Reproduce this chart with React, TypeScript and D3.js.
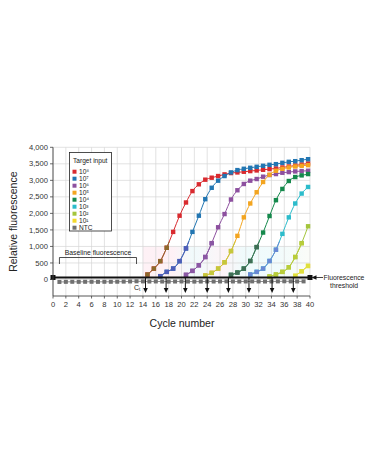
import React from 'react';
import * as d3 from 'd3';

// Cycle ticks and fluorescence ticks
const cycleTicks = d3.range(0, 41, 2);
const fluorTicks = d3.range(0, 4001, 500);

// Target input dilution series (10^8 ... 10^1), one value per cycle from its start cycle
const seriesLabels = ['10⁸', '10⁷', '10⁶', '10⁵', '10⁴', '10³', '10²', '10¹'];
const seriesStart = [14.7, 16.7, 20.7, 23.7, 27.7, 30.7, 33.7, 37.7];
const input1e8 = [150, 330, 555, 960, 1440, 1930, 2330, 2675, 2880, 3020, 3080, 3130, 3180, 3220, 3240, 3260, 3280, 3300, 3320, 3340, 3360, 3390, 3420, 3450, 3480, 3510];
const input1e7 = [100, 230, 330, 555, 940, 1440, 1930, 2430, 2775, 2990, 3130, 3240, 3310, 3350, 3380, 3410, 3440, 3470, 3490, 3530, 3560, 3580, 3610, 3640];
const input1e6 = [140, 260, 430, 680, 1100, 1580, 1980, 2420, 2700, 2890, 2990, 3040, 3110, 3160, 3190, 3230, 3250, 3270, 3280, 3290];
const input1e5 = [120, 200, 330, 520, 860, 1320, 1880, 2300, 2640, 2950, 3170, 3290, 3350, 3390, 3420, 3440, 3460];
const input1e4 = [140, 210, 330, 560, 980, 1420, 1920, 2400, 2740, 2980, 3100, 3150, 3190];
const input1e3 = [150, 230, 330, 560, 900, 1380, 1880, 2300, 2600, 2800];
const input1e2 = [90, 150, 230, 370, 680, 1100, 1610];
const input1e1 = [110, 250, 410];
const seriesValues = [input1e8, input1e7, input1e6, input1e5, input1e4, input1e3, input1e2, input1e1];

// No-template control, cycles 1..39
const ntcStart = 1;
const ntcValues = [-75, -72, -70, -72, -70, -70, -72, -70, -70, -68, -65, -60, -55, -58, -62, -60, -62, -65, -62, -60, -62, -65, -62, -60, -62, -60, -58, -60, -62, -60, -58, -60, -62, -60, -58, -55, -58, -60, -58];

const thresholdValue = 60;
const ctCycles = [14.4, 17.6, 20.6, 24.0, 27.3, 30.5, 34.1, 37.4];
const baselineRange = [1, 13];

const colors = ['#d92a2f', '#2276b2', '#8d509f', '#f3a520', '#15894c', '#2cbccb', '#a4c53c', '#f4d92c'];
const lowColors = ['#8c6a2c', '#4f5cb8', '#8a58a4', '#c4c83c', '#3f6e55', '#6a88d4', '#b9cd3a', '#dfe03c'];
const ntcColor = '#707070';
const font = '"Liberation Sans", Arial, Helvetica, sans-serif';

const W = 375;
const H = 471;

export default function App() {
  const x = d3.scaleLinear().domain([0, 40]).range([53, 310]);
  const y = d3.scaleLinear().domain([-500, 4000]).range([296, 147.3]);

  const line = d3
    .line<[number, number]>()
    .x((d) => x(d[0]))
    .y((d) => y(d[1]))
    .curve(d3.curveMonotoneX);

  const pts = (start: number, vals: number[]) =>
    vals.map((v, i) => [start + i, v] as [number, number]);

  const ms = 4.4;

  const drawSeries = (palette: string[]) =>
    seriesValues.map((vals, si) => {
      const p = pts(seriesStart[si], vals);
      return (
        <g key={si}>
          <path d={line(p) || ''} fill="none" stroke={palette[si]} strokeWidth={1} />
          {p.map((d, i) => (
            <rect
              key={i}
              x={x(d[0]) - ms / 2}
              y={y(d[1]) - ms / 2}
              width={ms}
              height={ms}
              fill={palette[si]}
            />
          ))}
        </g>
      );
    });

  const ntc = pts(ntcStart, ntcValues);
  const yThr = y(thresholdValue);

  return (
    <svg
      width={W}
      height={H}
      style={{ position: 'absolute', left: 0, top: 0, background: '#fff' }}
      fontFamily={font}
    >
      <defs>
        <linearGradient id="bandTint" x1="0%" x2="100%" y1="0%" y2="0%">
          <stop offset="0%" stopColor="#fde3ec" />
          <stop offset="18%" stopColor="#fde3ec" />
          <stop offset="30%" stopColor="#e2f6f8" />
          <stop offset="48%" stopColor="#fbe9f1" />
          <stop offset="60%" stopColor="#e0f6f8" />
          <stop offset="80%" stopColor="#e3f7f9" />
          <stop offset="100%" stopColor="#f6f9f0" />
        </linearGradient>
        <clipPath id="lowBand">
          <rect x={x(14)} y={y(1150)} width={x(40) - x(14)} height={y(-500) - y(1150)} />
        </clipPath>
      </defs>

      {/* faint tint behind the exponential phase */}
      <rect
        x={x(14)}
        y={y(1000)}
        width={x(40) - x(14)}
        height={y(thresholdValue) - y(1000)}
        fill="url(#bandTint)"
        opacity={0.5}
      />

      {/* grid */}
      {cycleTicks.map((c) => (
        <line key={'gx' + c} x1={x(c)} x2={x(c)} y1={y(4000)} y2={y(-500)} stroke="#d6d6d6" strokeWidth={0.7} />
      ))}
      {fluorTicks.map((v) => (
        <line key={'gy' + v} x1={x(0)} x2={x(40)} y1={y(v)} y2={y(v)} stroke="#d6d6d6" strokeWidth={0.7} />
      ))}

      {/* amplification curves */}
      <g>{drawSeries(colors)}</g>
      <g clipPath="url(#lowBand)">{drawSeries(lowColors)}</g>

      {/* NTC */}
      <path d={line(ntc) || ''} fill="none" stroke={ntcColor} strokeWidth={0.8} />
      {ntc.map((d, i) => (
        <rect key={'n' + i} x={x(d[0]) - 2} y={y(d[1]) - 2} width={4} height={4} fill={ntcColor} />
      ))}

      {/* threshold */}
      <line x1={x(0)} x2={x(40)} y1={yThr} y2={yThr} stroke="#111" strokeWidth={2} />
      <rect x={x(0) - 2.5} y={yThr - 2.5} width={5} height={5} fill="#111" />
      <rect x={x(40) - 2.5} y={yThr - 2.5} width={5} height={5} fill="#111" />

      {/* Ct arrows */}
      {ctCycles.map((c, i) => {
        const cx = x(c);
        const tip = 293;
        return (
          <g key={'ct' + i}>
            <line x1={cx} x2={cx} y1={yThr} y2={tip - 4} stroke="#111" strokeWidth={1} />
            <path d={`M${cx - 2.3},${tip - 5} L${cx + 2.3},${tip - 5} L${cx},${tip} Z`} fill="#111" />
          </g>
        );
      })}
      <text x={134} y={289.5} fontSize={7} fill="#222">
        C<tspan fontSize={4.5} dy={1.5}>t</tspan>
      </text>

      {/* axes */}
      <line x1={x(0)} x2={x(0)} y1={y(4000)} y2={y(-500)} stroke="#444" strokeWidth={0.9} />
      <line x1={x(0)} x2={x(40)} y1={y(-500)} y2={y(-500)} stroke="#444" strokeWidth={0.9} />
      {fluorTicks.map((v) => (
        <g key={'ty' + v}>
          <line x1={x(0) - 3} x2={x(0)} y1={y(v)} y2={y(v)} stroke="#444" strokeWidth={0.8} />
          <text x={x(0) - 5} y={y(v) + 2.6} fontSize={7.6} textAnchor="end" fill="#333">
            {d3.format(',')(v)}
          </text>
        </g>
      ))}
      {cycleTicks.map((c) => (
        <g key={'tx' + c}>
          <line x1={x(c)} x2={x(c)} y1={y(-500)} y2={y(-500) + 2.5} stroke="#444" strokeWidth={0.8} />
          <text x={x(c)} y={y(-500) + 11} fontSize={7.6} textAnchor="middle" fill="#333">
            {c}
          </text>
        </g>
      ))}
      <text x={182} y={327} fontSize={10.5} textAnchor="middle" fill="#222">
        Cycle number
      </text>
      <text
        transform={`translate(17, ${(y(4000) + y(-500)) / 2}) rotate(-90)`}
        fontSize={10.5}
        textAnchor="middle"
        fill="#222"
      >
        Relative fluorescence
      </text>

      {/* baseline bracket */}
      <path
        d={`M${x(baselineRange[0])},264 L${x(baselineRange[0])},257.5 L${x(baselineRange[1])},257.5 L${x(baselineRange[1])},264`}
        fill="none"
        stroke="#222"
        strokeWidth={0.8}
      />
      <text x={(x(baselineRange[0]) + x(baselineRange[1])) / 2} y={254.5} fontSize={6.8} textAnchor="middle" fill="#222">
        Baseline fluorescence
      </text>

      {/* threshold callout */}
      <line x1={316} x2={323} y1={yThr} y2={yThr} stroke="#111" strokeWidth={0.8} />
      <path d={`M311.5,${yThr} L316.5,${yThr - 2.2} L316.5,${yThr + 2.2} Z`} fill="#111" />
      <text x={344} y={yThr + 2.3} fontSize={6.8} textAnchor="middle" fill="#222">
        Fluorescence
      </text>
      <text x={344} y={yThr + 11} fontSize={6.8} textAnchor="middle" fill="#222">
        threshold
      </text>

      {/* legend */}
      <rect x={69.5} y={152.5} width={42} height={78.5} fill="#fff" stroke="#222" strokeWidth={0.8} />
      <text x={73} y={162.5} fontSize={6.6} fill="#222">
        Target input
      </text>
      {[...seriesLabels, 'NTC'].map((lab, i) => {
        const cy = 171.7 + i * 7;
        const col = i < colors.length ? colors[i] : ntcColor;
        return (
          <g key={'lg' + i}>
            <rect x={74.5 - 2} y={cy - 2} width={4} height={4} fill={col} />
            <text x={79} y={cy + 2.3} fontSize={6.6} fill="#222">
              {lab}
            </text>
          </g>
        );
      })}
    </svg>
  );
}
